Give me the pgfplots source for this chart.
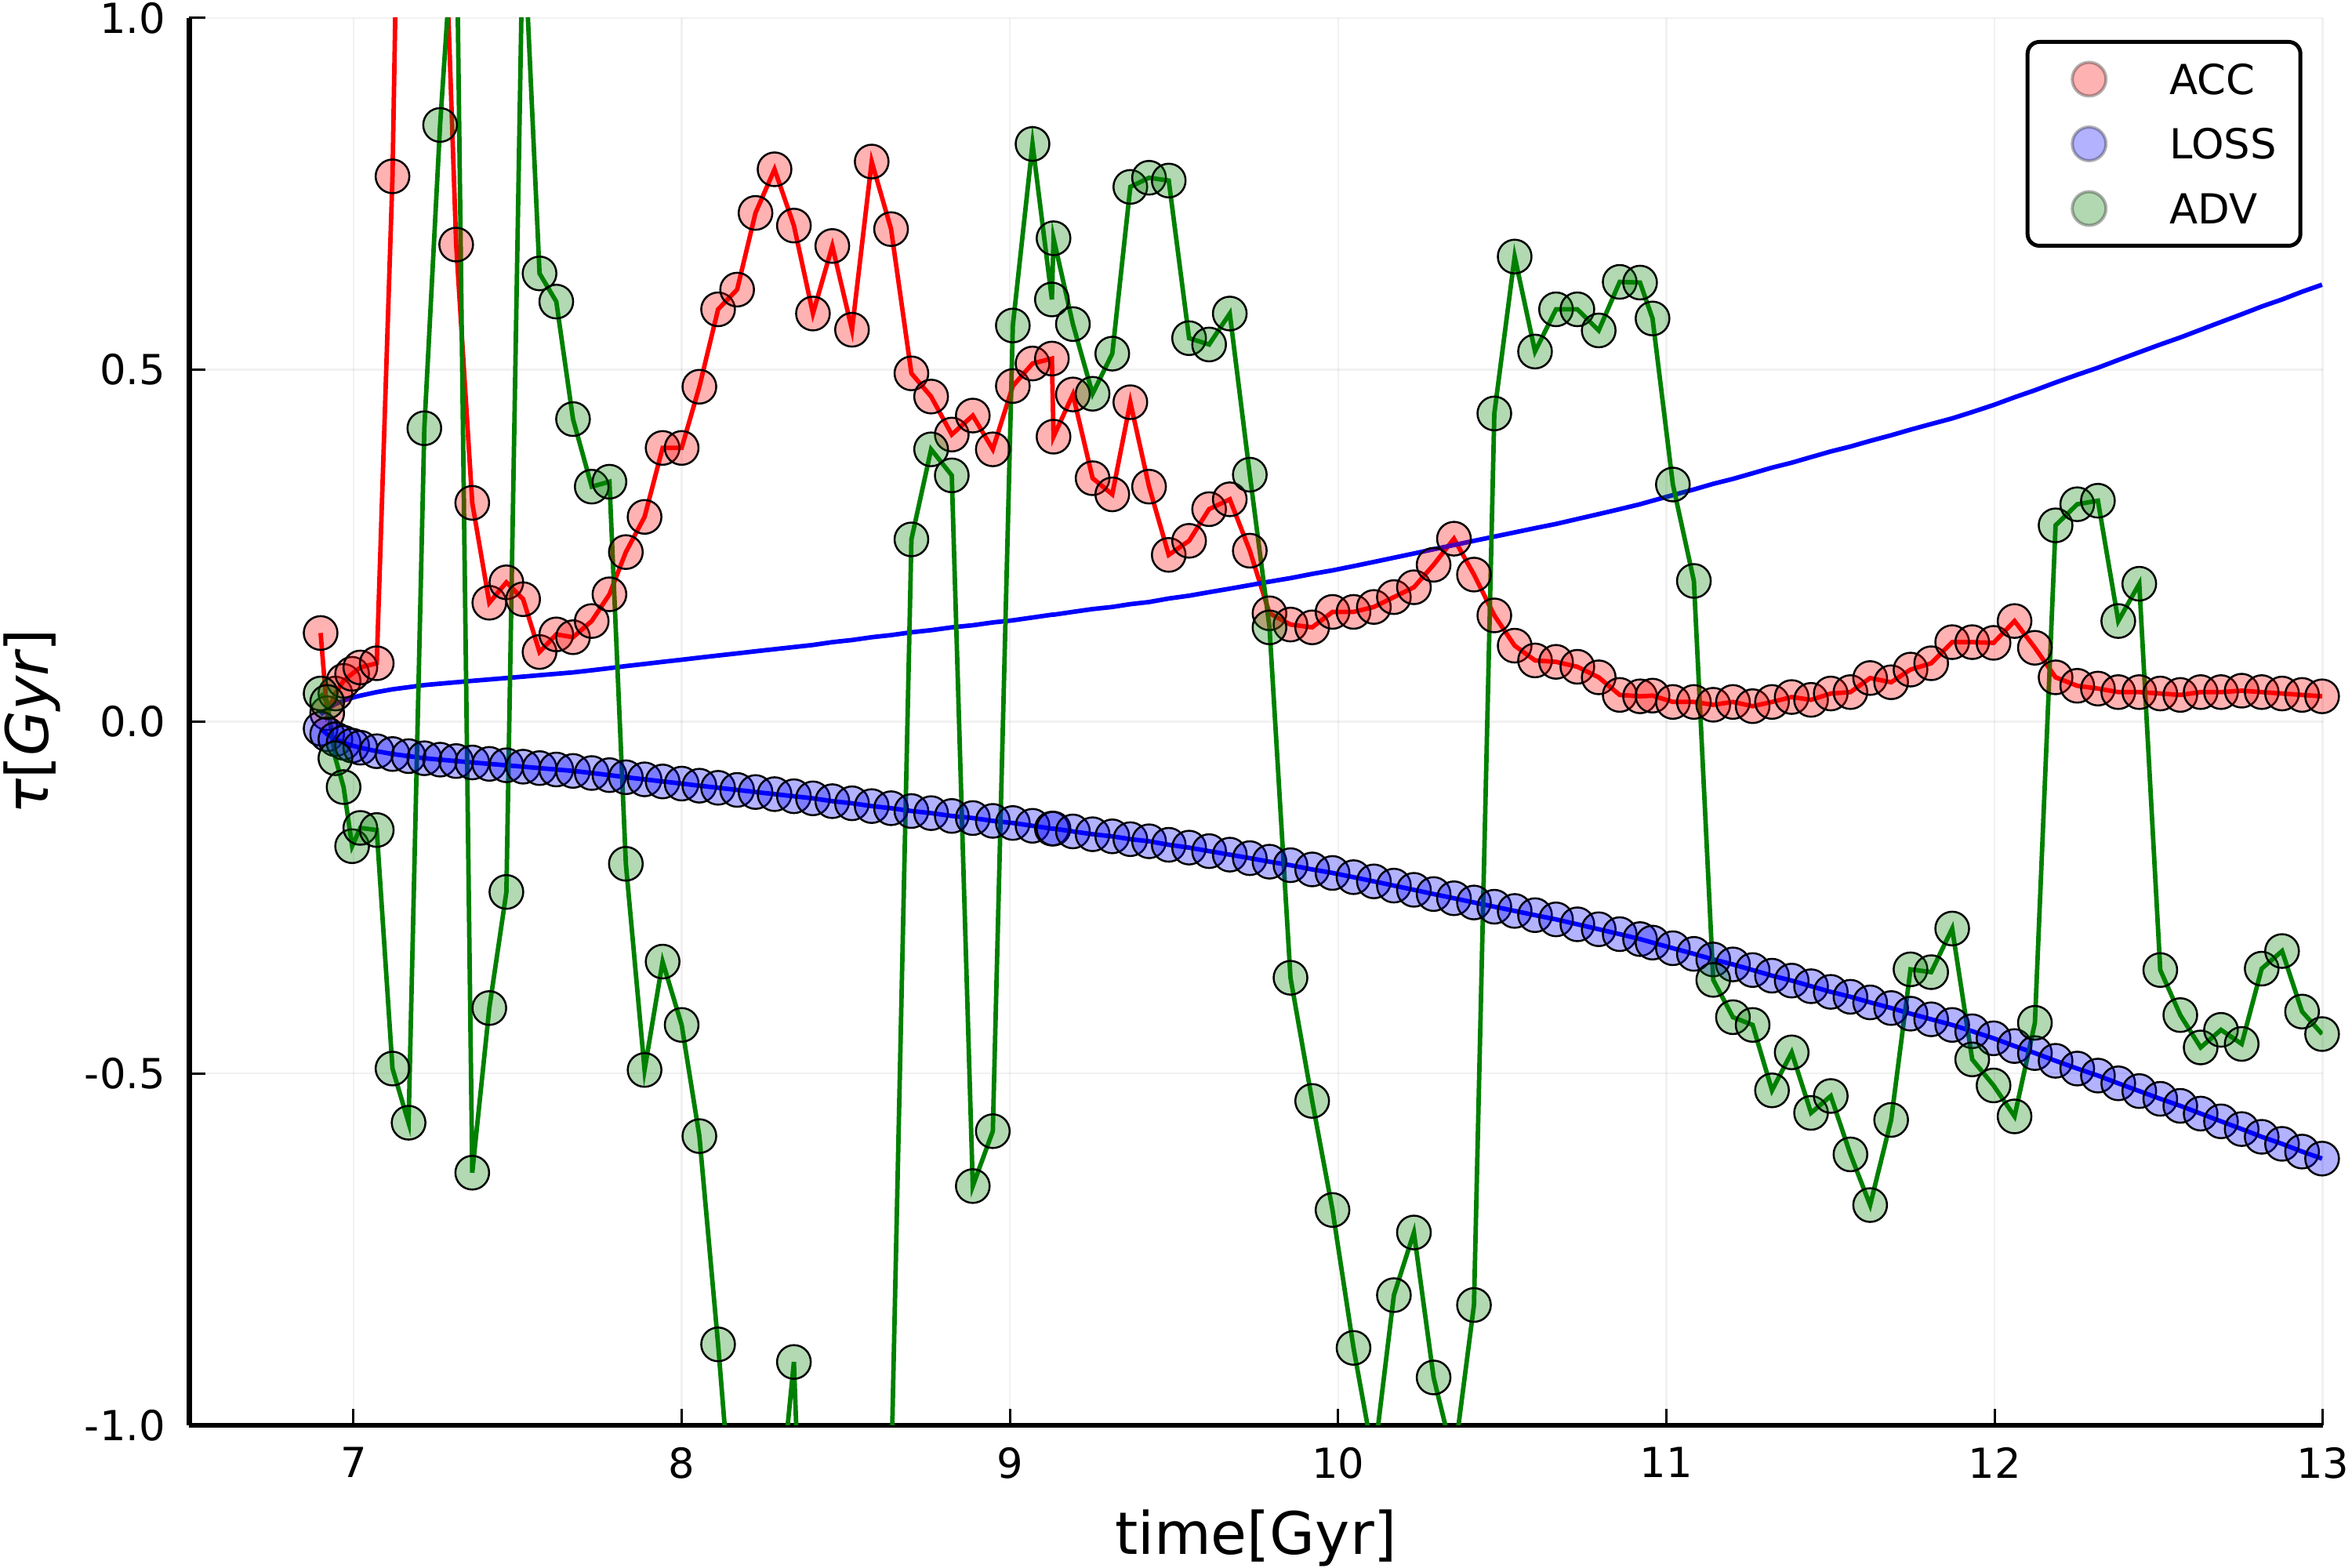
\documentclass[border=0pt]{standalone}
\usepackage{pgfplots}
\pgfplotsset{compat=1.18}
\usepackage{pgfplotstable}
\usepackage{fontspec}
\setmainfont{DejaVu Sans}

\pgfplotstableread{
t acc loss adv
6.900 0.126 -0.010 0.040
6.920 0.012 -0.018 0.028
6.945 0.040 -0.025 -0.052
6.970 0.058 -0.030 -0.093
6.996 0.068 -0.034 -0.177
7.021 0.077 -0.037 -0.151
7.071 0.083 -0.042 -0.154
7.119 0.775 -0.046 -0.493
7.168 2.100 -0.049 -0.570
7.216 2.400 -0.052 0.417
7.264 1.350 -0.054 0.848
7.313 0.678 -0.056 1.190
7.362 0.311 -0.058 -0.641
7.414 0.169 -0.060 -0.407
7.466 0.198 -0.062 -0.242
7.517 0.174 -0.064 1.150
7.567 0.099 -0.066 0.637
7.618 0.124 -0.068 0.597
7.669 0.120 -0.070 0.430
7.726 0.143 -0.073 0.334
7.780 0.181 -0.076 0.341
7.830 0.241 -0.079 -0.202
7.887 0.291 -0.082 -0.495
7.942 0.389 -0.085 -0.341
8.000 0.389 -0.088 -0.431
8.054 0.476 -0.091 -0.589
8.111 0.586 -0.094 -0.885
8.169 0.614 -0.097 -1.220
8.225 0.723 -0.100 -1.500
8.283 0.785 -0.103 -1.190
8.342 0.705 -0.106 -0.910
8.400 0.580 -0.109 -1.660
8.459 0.676 -0.113 -1.800
8.519 0.557 -0.116 -1.800
8.579 0.796 -0.120 -1.600
8.638 0.700 -0.123 -1.080
8.700 0.495 -0.127 0.259
8.760 0.462 -0.130 0.387
8.823 0.408 -0.134 0.350
8.887 0.435 -0.137 -0.660
8.948 0.387 -0.141 -0.582
9.009 0.477 -0.144 0.563
9.069 0.509 -0.148 0.821
9.128 0.516 -0.152 0.600
9.133 0.405 -0.152 0.687
9.192 0.465 -0.156 0.565
9.252 0.346 -0.160 0.466
9.312 0.323 -0.163 0.523
9.367 0.454 -0.167 0.760
9.424 0.334 -0.170 0.773
9.484 0.237 -0.175 0.769
9.546 0.257 -0.179 0.545
9.607 0.302 -0.184 0.536
9.670 0.316 -0.189 0.580
9.731 0.243 -0.194 0.351
9.791 0.154 -0.199 0.134
9.855 0.138 -0.204 -0.364
9.921 0.134 -0.210 -0.539
9.983 0.156 -0.215 -0.694
10.047 0.156 -0.221 -0.890
10.109 0.163 -0.227 -1.050
10.170 0.177 -0.233 -0.815
10.231 0.191 -0.239 -0.726
10.291 0.223 -0.245 -0.932
10.353 0.260 -0.251 -1.050
10.414 0.209 -0.257 -0.829
10.476 0.151 -0.263 0.438
10.538 0.108 -0.269 0.661
10.600 0.087 -0.275 0.526
10.664 0.085 -0.281 0.586
10.729 0.078 -0.288 0.586
10.794 0.063 -0.295 0.556
10.858 0.038 -0.302 0.625
10.920 0.036 -0.309 0.624
10.958 0.037 -0.314 0.573
11.020 0.028 -0.322 0.337
11.084 0.028 -0.330 0.200
11.143 0.024 -0.338 -0.367
11.203 0.028 -0.345 -0.420
11.263 0.022 -0.353 -0.431
11.322 0.028 -0.361 -0.524
11.382 0.035 -0.368 -0.470
11.441 0.031 -0.376 -0.556
11.501 0.040 -0.384 -0.532
11.561 0.042 -0.391 -0.615
11.621 0.062 -0.399 -0.687
11.685 0.056 -0.407 -0.566
11.744 0.074 -0.415 -0.352
11.807 0.083 -0.423 -0.356
11.871 0.113 -0.431 -0.294
11.932 0.113 -0.440 -0.480
11.997 0.112 -0.450 -0.517
12.061 0.143 -0.461 -0.561
12.123 0.105 -0.471 -0.428
12.186 0.063 -0.482 0.279
12.252 0.051 -0.493 0.309
12.315 0.047 -0.503 0.314
12.377 0.042 -0.514 0.143
12.441 0.042 -0.525 0.196
12.505 0.040 -0.536 -0.353
12.566 0.038 -0.546 -0.417
12.628 0.042 -0.557 -0.463
12.690 0.042 -0.568 -0.438
12.753 0.044 -0.579 -0.458
12.814 0.042 -0.590 -0.351
12.876 0.040 -0.600 -0.326
12.937 0.038 -0.611 -0.412
12.998 0.036 -0.621 -0.444
}\data

\definecolor{pgreen}{RGB}{0,128,0}

\begin{document}
\begin{tikzpicture}
\useasboundingbox (-48.3bp,-36.4bp) rectangle (551.7bp,363.6bp);
\begin{axis}[
  at={(0,0)}, anchor=south west,
  scale only axis,
  width=544.24bp, height=359bp,
  xmin=6.5, xmax=13, ymin=-1, ymax=1,
  enlargelimits=false,
  axis x line=bottom, axis y line=left,
  axis line style={-, line width=1.35bp, black},
  xtick={7,8,9,10,11,12,13},
  xticklabels={7,8,9,10,11,12,13},
  ytick={-1,-0.5,0,0.5,1},
  yticklabels={-1.0,-0.5,0.0,0.5,1.0},
  tick align=inside,
  major tick length=4.2bp,
  tick style={black, line width=0.6bp},
  ticklabel style={font=\fontsize{10.6}{12}\selectfont},
  xticklabel style={anchor=north, inner sep=0pt, yshift=-5.5bp},
  yticklabel style={anchor=east, inner sep=0pt, xshift=-5.9bp},
  grid=major,
  major grid style={black, opacity=0.055, line width=0.5bp},
  legend style={
    at={(rel axis cs:1,1)}, anchor=north east,
    xshift=-5.2bp, yshift=-5.6bp,
    draw=black, line width=1bp, rounded corners=3bp,
    inner xsep=0pt, inner ysep=4.8bp,
    row sep=7.1bp,
    font=\fontsize{10.6}{12}\selectfont,
    nodes={inner sep=0pt, text width=33.3bp, text height=7.8bp, text depth=0pt},
  },
  legend cell align=left,
]
% markers
\addplot[only marks, mark=*, mark size=4.3bp, forget plot,
  mark options={draw=black, line width=0.5bp, fill=red, fill opacity=0.3}]
  table[x=t, y=acc] {\data};
\addplot[only marks, mark=*, mark size=4.3bp, forget plot,
  mark options={draw=black, line width=0.5bp, fill=blue, fill opacity=0.3}]
  table[x=t, y=loss] {\data};
\addplot[only marks, mark=*, mark size=4.3bp, forget plot,
  mark options={draw=black, line width=0.5bp, fill=pgreen, fill opacity=0.3}]
  table[x=t, y=adv] {\data};
% lines
\addplot[red, line width=1.15bp, no marks, forget plot] table[x=t, y=acc] {\data};
\addplot[blue, line width=1.15bp, no marks, forget plot] table[x=t, y expr=-\thisrow{loss}] {\data};
\addplot[blue, line width=1.15bp, no marks, forget plot] table[x=t, y=loss] {\data};
\addplot[pgreen, line width=1.15bp, no marks, forget plot] table[x=t, y=adv] {\data};
% legend
\addlegendimage{legend image code/.code={
  \path[draw=none, fill=none] (0bp,-4.3bp) rectangle (36.3bp,4.3bp);
  \path[draw=black, draw opacity=0.3, fill=red, fill opacity=0.3, line width=0.8bp, rounded corners=0pt] (15.7bp,0bp) circle[radius=4.3bp];}}
\addlegendentry{ACC}
\addlegendimage{legend image code/.code={
  \path[draw=none, fill=none] (0bp,-4.3bp) rectangle (36.3bp,4.3bp);
  \path[draw=black, draw opacity=0.3, fill=blue, fill opacity=0.3, line width=0.8bp, rounded corners=0pt] (15.7bp,0bp) circle[radius=4.3bp];}}
\addlegendentry{LOSS}
\addlegendimage{legend image code/.code={
  \path[draw=none, fill=none] (0bp,-4.3bp) rectangle (36.3bp,4.3bp);
  \path[draw=black, draw opacity=0.3, fill=pgreen, fill opacity=0.3, line width=0.8bp, rounded corners=0pt] (15.7bp,0bp) circle[radius=4.3bp];}}
\addlegendentry{ADV}
\end{axis}
\node[rotate=90, anchor=base, font=\fontsize{15}{18}\selectfont] at (-36bp,179.5bp) {{\itshape τ}[{\itshape Gyr}]};
\node[anchor=base, font=\fontsize{15}{18}\selectfont] at (272.1bp,-32.9bp) {time[Gyr]};
\end{tikzpicture}
\end{document}
